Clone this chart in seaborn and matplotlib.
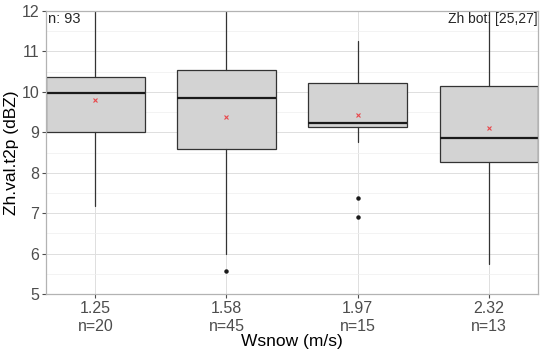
import numpy as np
import matplotlib
matplotlib.use("Agg")
import matplotlib.pyplot as plt
import seaborn as sns

# values
wsnow = ["1.25", "1.58", "1.97", "2.32"]
counts = [20, 45, 15, 13]
q1 = [9.01, 8.60, 9.12, 8.27]
median = [9.97, 9.84, 9.22, 8.87]
q3 = [10.36, 10.54, 10.22, 10.15]
whislo = [7.18, 6.00, 8.76, 5.74]
whishi = [12.4, 13.2, 11.27, 12.8]
means = [9.79, 9.38, 9.44, 9.10]
outliers = [[], [5.57], [7.37, 6.90], []]

sns.set_theme(style="whitegrid")
plt.rcParams['font.family'] = ['Liberation Sans', 'DejaVu Sans']

fig, ax = plt.subplots(figsize=(5.5, 3.54), dpi=100)

stats = []
for i in range(len(wsnow)):
    stats.append(dict(med=median[i], q1=q1[i], q3=q3[i], whislo=whislo[i],
                      whishi=whishi[i], mean=means[i], fliers=outliers[i],
                      label=f"{wsnow[i]}\nn={counts[i]}"))

ax.bxp(stats, positions=range(len(wsnow)), widths=0.75, patch_artist=True,
       showmeans=True, showcaps=False,
       boxprops=dict(facecolor="#D3D3D3", edgecolor="#333333", linewidth=0.9),
       medianprops=dict(color="#1a1a1a", linewidth=1.6),
       whiskerprops=dict(color="#333333", linewidth=0.9),
       meanprops=dict(marker="x", markeredgecolor="#E8474B", markersize=3.5, markeredgewidth=0.8),
       flierprops=dict(marker="o", markerfacecolor="#1a1a1a", markeredgecolor="#1a1a1a", markersize=2.2))

ax.set_xlim(-0.375, 3.375)
ax.set_ylim(5, 12)
ax.set_yticks(range(5, 13))
ax.set_yticks(np.arange(5.5, 12, 1), minor=True)
ax.grid(True, which="major", color="#DEDEDE", linewidth=0.7)
ax.grid(True, which="minor", axis="y", color="#EFEFEF", linewidth=0.5)
ax.set_axisbelow(True)
for s in ax.spines.values():
    s.set_color("#B3B3B3")
    s.set_linewidth(0.9)
ax.tick_params(axis="both", which="major", labelsize=11.5, colors="#4D4D4D",
               length=3, width=0.8, left=True, bottom=True, pad=2)
ax.tick_params(axis="y", which="minor", length=0)
for lbl in ax.get_xticklabels() + ax.get_yticklabels():
    lbl.set_color("#4D4D4D")

ax.set_xlabel("Wsnow (m/s)", fontsize=12.5, color="black", labelpad=0)
ax.set_ylabel("Zh.val.t2p (dBZ)", fontsize=12.5, color="black", labelpad=2)

ax.text(0.004, 0.995, "n: 93", transform=ax.transAxes, ha="left", va="top", fontsize=10.5)
ax.text(0.999, 0.995, "Zh bot: [25,27]", transform=ax.transAxes, ha="right", va="top", fontsize=10)

fig.subplots_adjust(left=0.084, right=0.978, top=0.969, bottom=0.169)
fig.savefig("out.png", dpi=100)
